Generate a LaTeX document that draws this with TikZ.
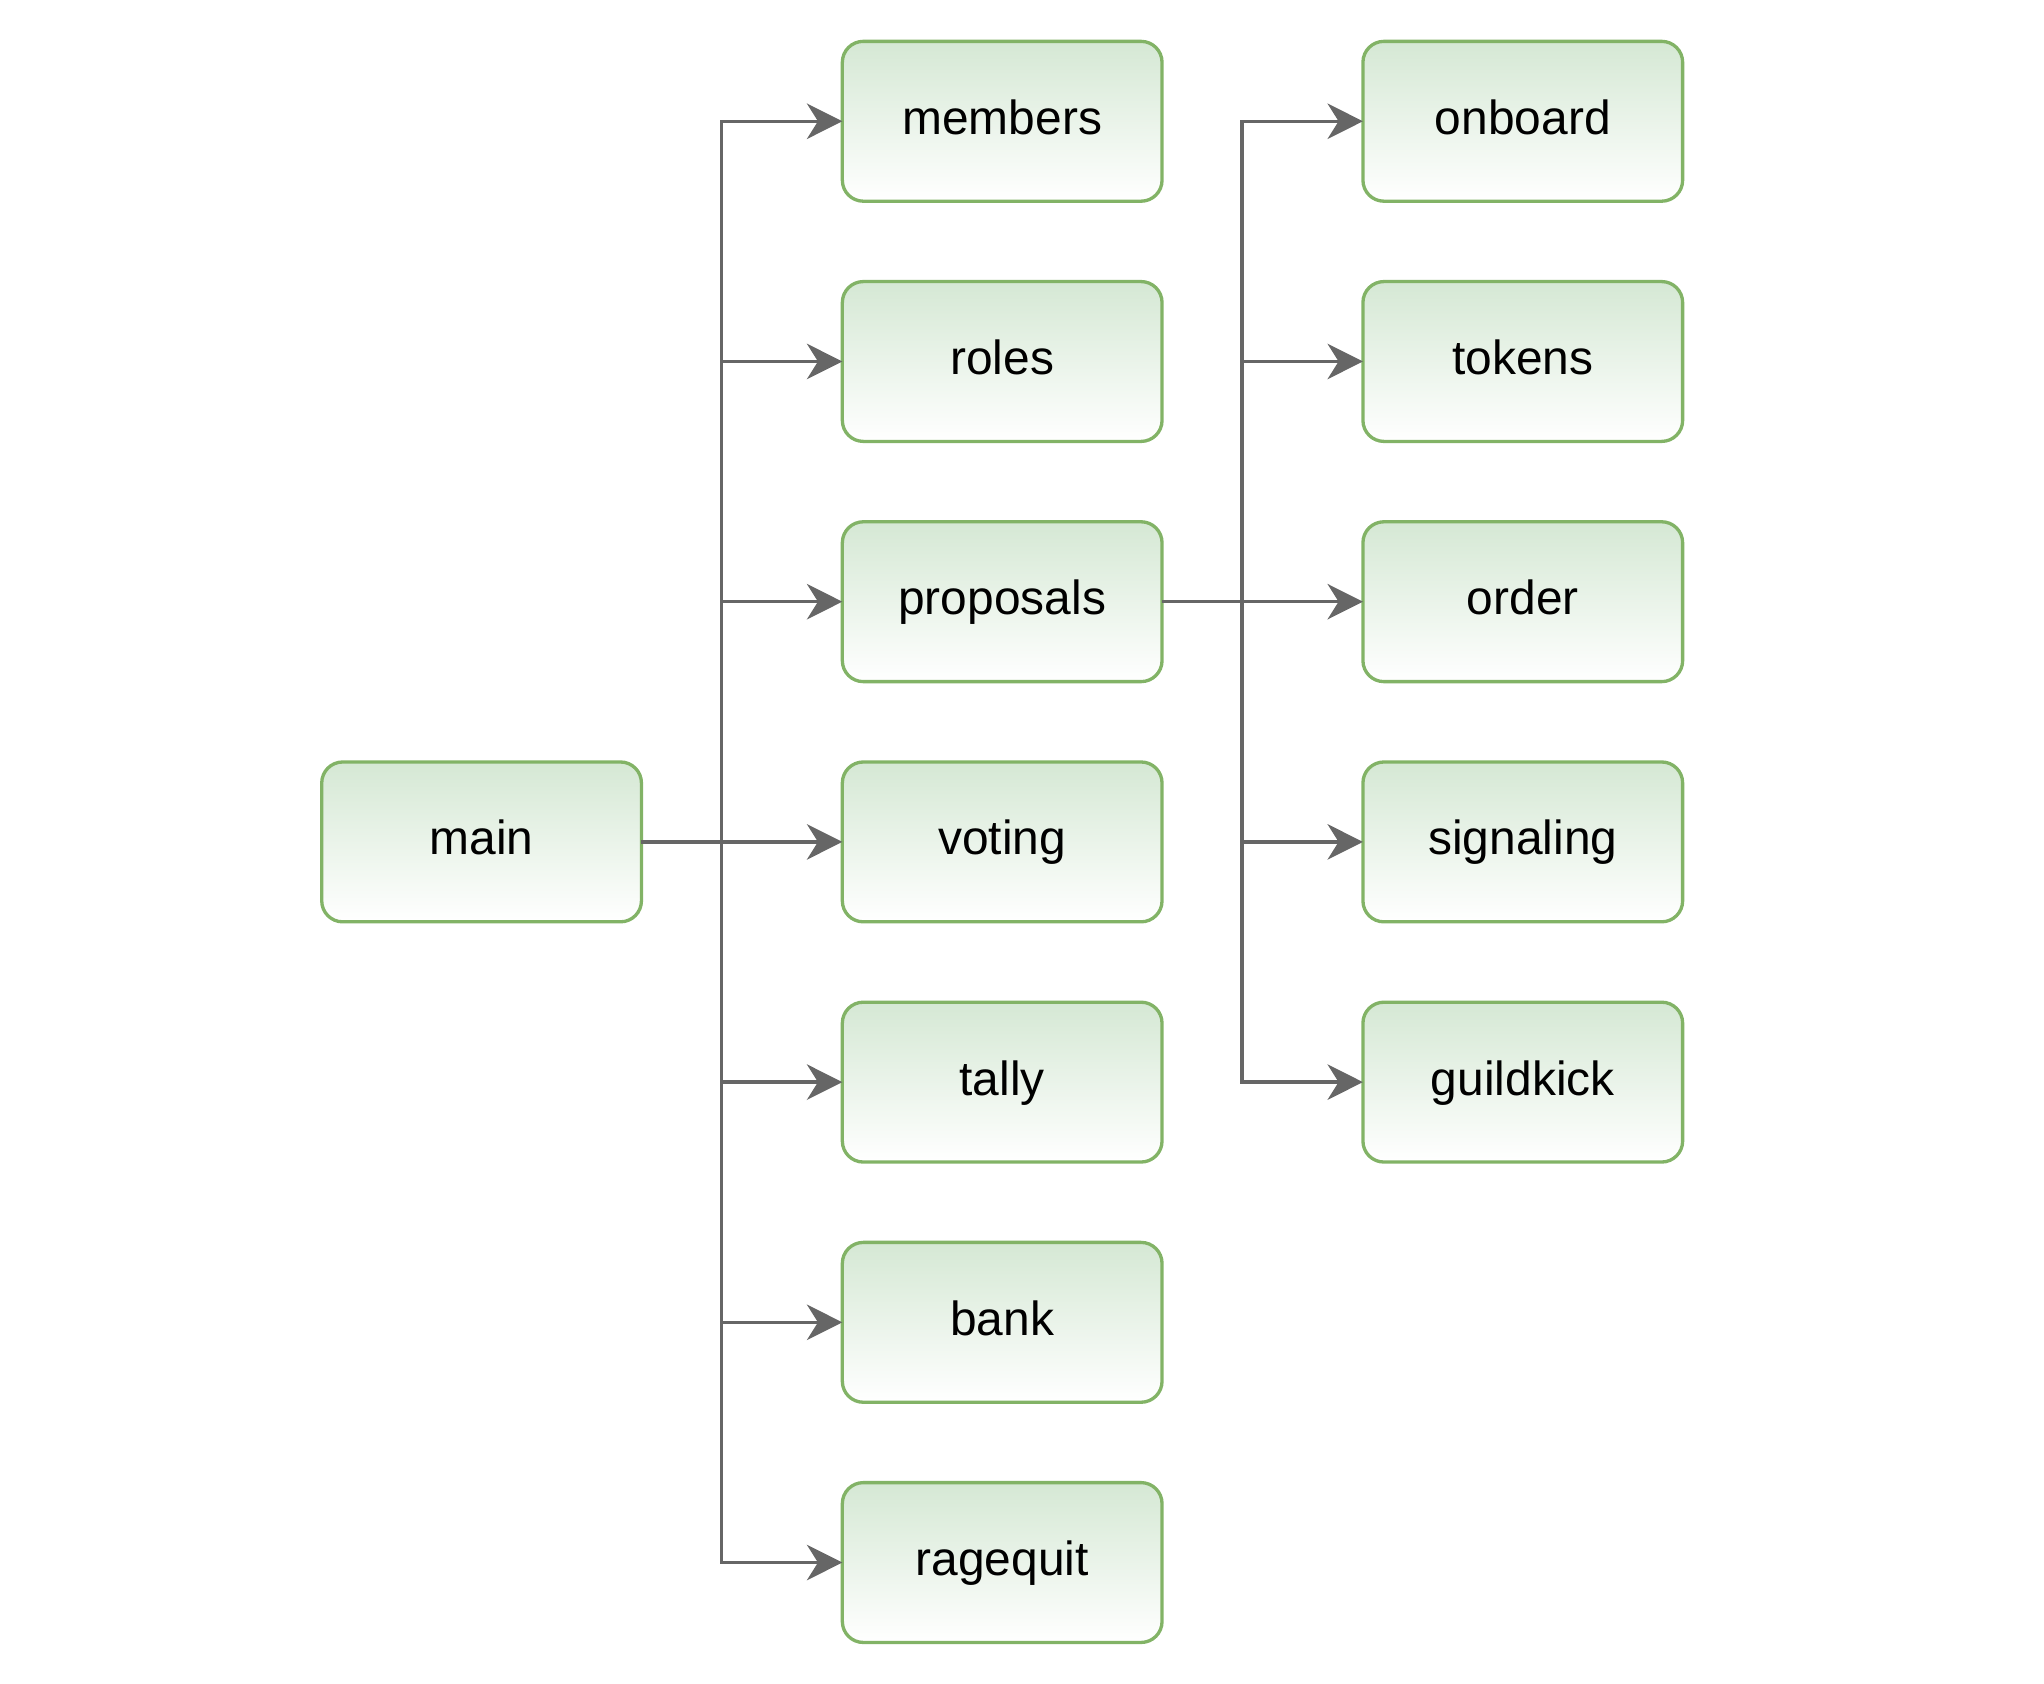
\documentclass[tikz,border=0pt]{standalone}
\usepackage{fontspec}
\setmainfont{Liberation Sans}
\usepackage{tikz}
\usetikzlibrary{arrows.meta,positioning,matrix}

\definecolor{boxtop}{HTML}{D5E8D4}
\definecolor{boxline}{HTML}{82B366}
\definecolor{wirecol}{HTML}{666666}

\tikzset{
  module/.style={draw=boxline, line width=1.8pt, top color=boxtop, bottom color=white,
    rounded corners=0.4cm, minimum width=6.1cm, minimum height=3.05cm, outer sep=0pt,
    text height=19pt, text depth=5pt,
    font=\fontsize{26pt}{31pt}\selectfont},
  wire/.style={color=wirecol, line width=1.9pt,
    -{Stealth[length=0.675cm, width=0.675cm, inset=0.21cm]}},
  elbow/.style={to path={-- ++(1.525,0) |- (\tikztotarget)}}
}

\begin{document}
\begin{tikzpicture}
  \useasboundingbox (0,0) rectangle (39,-32.13);
  \matrix[anchor=north west, inner sep=0pt, nodes={module},
      row sep=1.47cm, column sep=3.77cm, ampersand replacement=\&] at (6.1,-0.75) {
     \& \node (members) {members}; \& \node (onboard) {onboard};\\
     \& \node (roles) {roles}; \& \node (tokens) {tokens};\\
     \& \node (proposals) {proposals}; \& \node (order) {order};\\
    \node (main) {main}; \& \node (voting) {voting}; \& \node (signaling) {signaling};\\
     \& \node (tally) {tally}; \& \node (guildkick) {guildkick};\\
     \& \node (bank) {bank}; \& \\
     \& \node (ragequit) {ragequit}; \& \\
  };
  % main to its modules
  \path[wire]
    (main.east) edge[elbow] (members.west)
    (main.east) edge[elbow] (roles.west)
    (main.east) edge[elbow] (proposals.west)
    (main.east) edge[elbow] (voting.west)
    (main.east) edge[elbow] (tally.west)
    (main.east) edge[elbow] (bank.west)
    (main.east) edge[elbow] (ragequit.west);
  % proposals to its kinds
  \path[wire]
    (proposals.east) edge[elbow] (onboard.west)
    (proposals.east) edge[elbow] (tokens.west)
    (proposals.east) edge[elbow] (order.west)
    (proposals.east) edge[elbow] (signaling.west)
    (proposals.east) edge[elbow] (guildkick.west);
\end{tikzpicture}
\end{document}
